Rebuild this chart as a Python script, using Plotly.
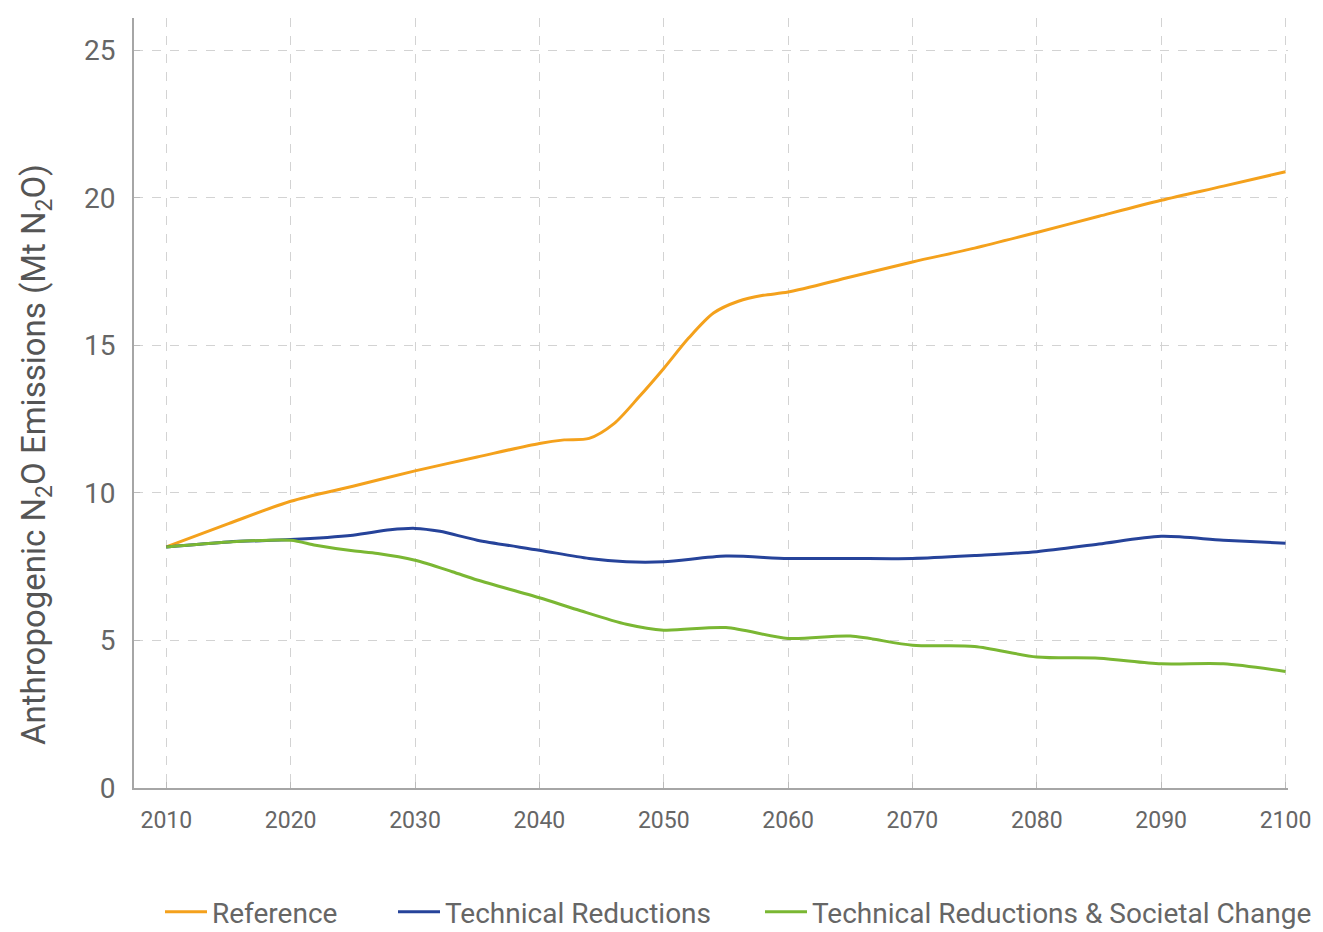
import plotly.graph_objects as go

# ---- data ----
ref_years = [2010, 2015, 2020, 2025, 2030, 2035, 2040, 2042, 2044, 2046, 2048, 2050,
             2052, 2054, 2056, 2058, 2060, 2065, 2070, 2075, 2080, 2085, 2090, 2095, 2100]
ref_vals = [8.17, 8.96, 9.72, 10.23, 10.75, 11.22, 11.68, 11.80, 11.85, 12.35, 13.25, 14.22,
            15.25, 16.10, 16.50, 16.70, 16.81, 17.32, 17.83, 18.30, 18.83, 19.38, 19.92, 20.40, 20.89]

tech_years = [2010, 2015, 2020, 2025, 2028, 2030, 2032, 2035, 2040, 2044, 2047, 2050,
              2055, 2060, 2065, 2070, 2075, 2080, 2085, 2090, 2095, 2100]
tech_vals = [8.17, 8.34, 8.42, 8.57, 8.75, 8.80, 8.70, 8.40, 8.06, 7.78, 7.67, 7.67,
             7.86, 7.78, 7.78, 7.78, 7.88, 8.01, 8.27, 8.53, 8.40, 8.30]

soc_years = [2010, 2015, 2020, 2022, 2025, 2027, 2030, 2033, 2035, 2040, 2043, 2047, 2050,
             2055, 2060, 2065, 2070, 2075, 2080, 2085, 2090, 2095, 2100]
soc_vals = [8.17, 8.34, 8.40, 8.23, 8.04, 7.95, 7.72, 7.33, 7.05, 6.45, 6.05, 5.55, 5.35,
            5.44, 5.07, 5.15, 4.84, 4.80, 4.44, 4.40, 4.21, 4.21, 3.95]

series_names = ["Reference", "Technical Reductions", "Technical Reductions & Societal Change"]
series_colors = ["#F4A11C", "#26439A", "#7AB733"]

x_ticks = [2010, 2020, 2030, 2040, 2050, 2060, 2070, 2080, 2090, 2100]
y_ticks = [0, 5, 10, 15, 20, 25]
y_title = "Anthropogenic N<sub>2</sub>O Emissions (Mt N<sub>2</sub>O)"

W, H = 1315, 924
ML, MR, MT, MB = 126, 35, 10, 144
plot_w = W - ML - MR
plot_h = H - MT - MB

fig = go.Figure()
legend_ids = ["legend", "legend2", "legend3"]
for name, xs, ys, col, lg in zip(series_names,
                                 [ref_years, tech_years, soc_years],
                                 [ref_vals, tech_vals, soc_vals],
                                 series_colors, legend_ids):
    fig.add_trace(go.Scatter(x=xs, y=ys, name=name, mode="lines", legend=lg,
                             line=dict(color=col, width=3, shape="spline", smoothing=0.8)))

font_family = "Roboto, Arial, sans-serif"
# text start positions of the legend entries (figure px)
legend_text_x = [204, 437, 804]
item_w = 42
legend_common = dict(orientation="h", xanchor="left", yref="container", y=1 - 904 / H,
                     yanchor="middle", font=dict(size=28, color="#666666"),
                     itemwidth=item_w, bgcolor="rgba(0,0,0,0)")
legends = {}
for lg, tx in zip(legend_ids, legend_text_x):
    legends[lg] = dict(legend_common, x=(tx - (item_w + 10) - ML) / plot_w)

fig.update_layout(
    width=W, height=H,
    margin=dict(l=ML, r=MR, t=MT, b=MB),
    plot_bgcolor="white", paper_bgcolor="white",
    font=dict(family=font_family, color="#666666"),
    showlegend=True,
    **legends,
)
fig.add_annotation(
    text=y_title, xref="paper", yref="paper",
    x=(28 - ML) / plot_w, y=1 - (447 - MT) / plot_h,
    xanchor="center", yanchor="middle", textangle=-90, showarrow=False,
    font=dict(size=33, color="#555555", family=font_family),
)
fig.update_xaxes(
    range=[2007.4, 2100.2], tickvals=x_ticks, ticktext=[str(v) for v in x_ticks],
    showgrid=True, gridcolor="#D3D3D3", griddash="dash", gridwidth=1,
    showline=True, linecolor="#A6A6A6", linewidth=2,
    ticks="inside", ticklen=6, tickcolor="#BBBBBB",
    tickfont=dict(size=23, color="#666666"), ticklabelstandoff=10,
    zeroline=False,
)
fig.update_yaxes(
    range=[0, 26.1], tickvals=y_ticks,
    showgrid=True, gridcolor="#D3D3D3", griddash="dash", gridwidth=1,
    showline=True, linecolor="#A6A6A6", linewidth=2,
    ticks="inside", ticklen=6, tickcolor="#BBBBBB",
    tickfont=dict(size=28, color="#666666"), ticklabelstandoff=11,
    zeroline=False,
)

fig.write_html("out.html")
